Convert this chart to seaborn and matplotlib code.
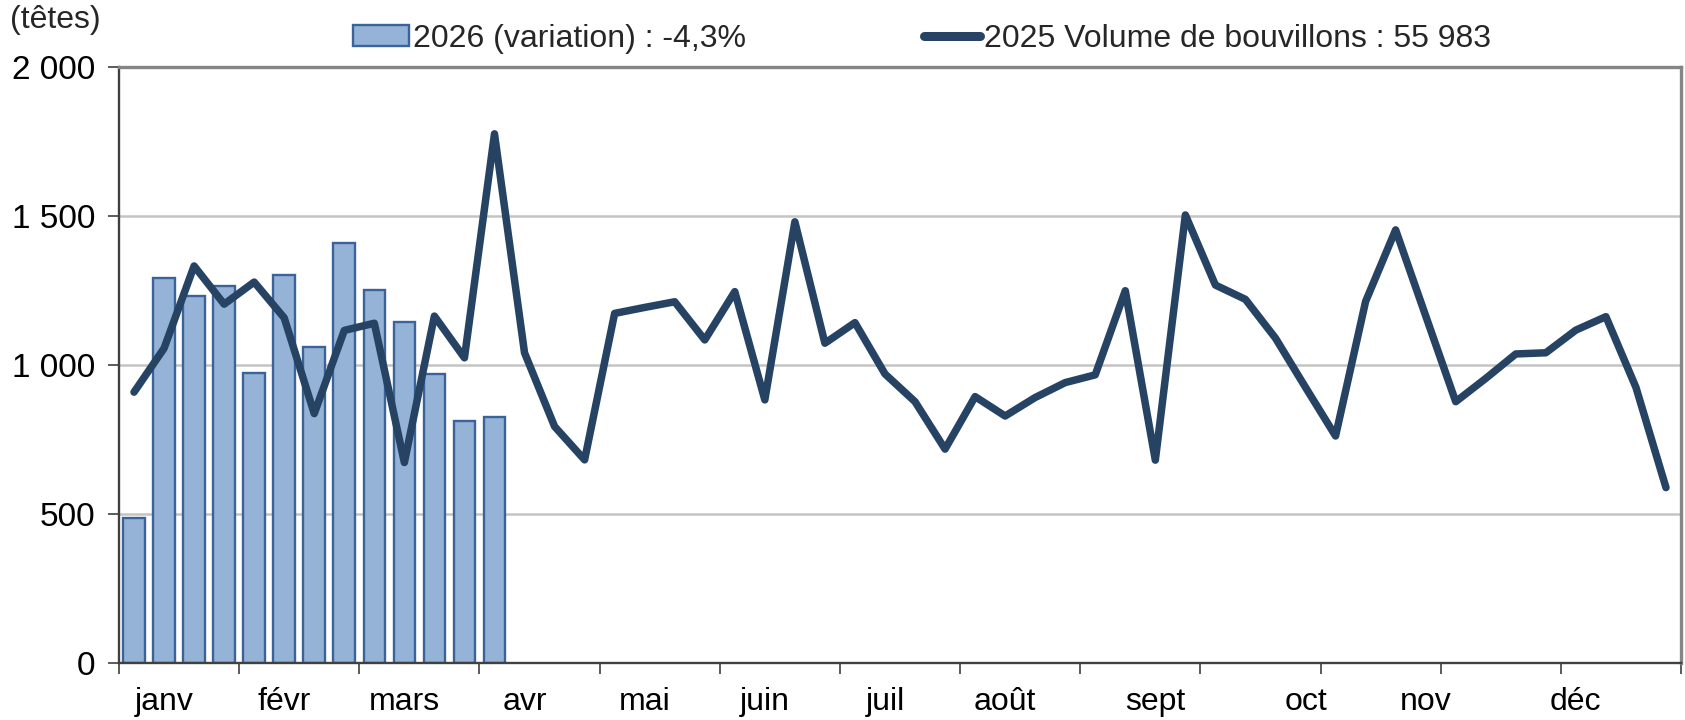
import matplotlib
matplotlib.use("Agg")
import matplotlib.pyplot as plt
import matplotlib.ticker as mticker
from matplotlib.patches import Patch
from matplotlib.lines import Line2D
import seaborn as sns
import pandas as pd

# Weekly data (52 weeks)
weeks = list(range(52))
vol_2025 = [909, 1056, 1332, 1204, 1278, 1158, 837, 1116, 1140, 673, 1164, 1024, 1775,
            1041, 794, 682, 1173, 1193, 1212, 1084, 1246, 883, 1480, 1073, 1142, 970,
            877, 718, 894, 829, 891, 941, 967, 1249, 681, 1503, 1268, 1220, 1090, 925,
            762, 1213, 1453, 1165, 877, 955, 1037, 1041, 1117, 1162, 925, 589]
vol_2026 = [487, 1290, 1232, 1266, 972, 1302, 1062, 1410, 1251, 1144, 970, 811, 825]

month_labels = ["janv", "févr", "mars", "avr", "mai", "juin",
                "juil", "août", "sept", "oct", "nov", "déc"]
month_weeks = [1, 5, 9, 13, 17, 21, 25, 29, 34, 39, 43, 48]

label_2026 = "2026 (variation) : -4,3%"
label_2025 = "2025 Volume de bouvillons : 55 983"

df_line = pd.DataFrame({"week": weeks, "volume": vol_2025})
df_bar = pd.DataFrame({"week": weeks[:len(vol_2026)], "volume": vol_2026})

sns.set_theme(style="white")
plt.rcParams["font.family"] = ["Liberation Sans", "DejaVu Sans"]

bar_face = "#95B3D7"
bar_edge = "#3A6399"
line_col = "#264364"
fs = 23

fig = plt.figure(figsize=(16.85, 7.2), dpi=100)
ax = fig.add_axes([119 / 1685, 1 - 663.3 / 720, (1681 - 119) / 1685, (663.3 - 66.7) / 720])

sns.barplot(data=df_bar, x="week", y="volume", native_scale=True, width=0.72,
            color=bar_face, saturation=1, edgecolor=bar_edge, linewidth=1.7,
            errorbar=None, ax=ax, zorder=2)
sns.lineplot(data=df_line, x="week", y="volume", color=line_col, linewidth=5.4,
             solid_joinstyle="round", solid_capstyle="round", ax=ax, zorder=3)

ax.set_xlim(-0.5, 51.5)
ax.set_ylim(0, 2000)

# y axis
ax.yaxis.set_major_locator(mticker.MultipleLocator(500))
ax.yaxis.set_major_formatter(mticker.FuncFormatter(lambda v, p: f"{v:,.0f}".replace(",", " ")))
ax.grid(axis="y", color="#c4c4c4", linewidth=1.8, zorder=0)
ax.set_axisbelow(True)

# x axis: tick marks every 4 weeks, month labels on minor positions
ax.set_xticks([-0.5 + 4 * i for i in range(14)])
ax.set_xticklabels([])
ax.set_xticks(month_weeks, minor=True)
ax.set_xticklabels(month_labels, minor=True)
ax.tick_params(axis="x", which="major", direction="out", length=8, width=1.2,
               color="#404040", bottom=True)
ax.tick_params(axis="x", which="minor", length=0, pad=17, labelsize=fs, labelcolor="black")
ax.tick_params(axis="y", direction="out", length=8, width=1.2, color="#404040",
               left=True, pad=9, labelsize=fs + 1, labelcolor="black")

for side in ["left", "bottom"]:
    ax.spines[side].set_color("#404040")
    ax.spines[side].set_linewidth(1.7)
for side in ["top", "right"]:
    ax.spines[side].set_visible(True)
    ax.spines[side].set_color("#858585")
    ax.spines[side].set_linewidth(2.4)

ax.set_xlabel("")
ax.set_ylabel("")

fig.text(10 / 1685, 1 - 20 / 720, "(têtes)", fontsize=fs, ha="left", va="center")

handles = [
    Patch(facecolor=bar_face, edgecolor=bar_edge, linewidth=1.7),
    Line2D([0], [0], color=line_col, linewidth=6.5, solid_capstyle="round"),
]
fig.legend(handles, [label_2026, label_2025], loc="center", ncol=2,
           bbox_to_anchor=(922 / 1685, 1 - 39 / 720), frameon=False, fontsize=fs,
           handlelength=1.75, handleheight=0.65, handletextpad=0.12, columnspacing=5.6)

fig.savefig("out.png", dpi=100)
